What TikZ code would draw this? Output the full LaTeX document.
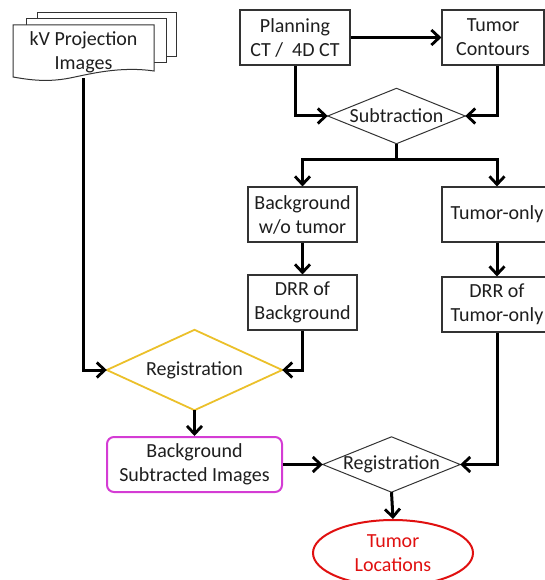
\documentclass[tikz,border=0pt]{standalone}
\usepackage{fontspec}
\setmainfont{Carlito}
\usetikzlibrary{arrows.meta,shapes.geometric}
\definecolor{txt}{HTML}{1E1E1E}
\definecolor{gold}{HTML}{EBC02A}
\definecolor{mag}{HTML}{D43CD4}
\definecolor{myred}{HTML}{E01010}
\begin{document}
\begin{tikzpicture}[x=1pt,y=-1pt,
  every node/.style={font=\fontsize{20}{24}\selectfont, text=txt, align=center, inner sep=0pt},
  box/.style={draw=black!80, line width=1.1pt, fill=white, minimum width=110pt, minimum height=55pt},
  dia/.style={minimum width=137pt, minimum height=55pt},
  conn/.style={line width=3pt, -{Straight Barb[length=8pt,width=15pt,line width=2.8pt]}, line join=miter}
]
\useasboundingbox (0,0) rectangle (545,580);
% document stack
\draw[black!80, line width=1pt, fill=white] (37,13) rectangle (176,57);
\draw[black!80, line width=1pt, fill=white] (26,19) rectangle (166,63);
\draw[black!80, line width=1pt, fill=white] (13,25) -- (154,25) -- (154,71)
  .. controls (120,66) and (90,74) .. (70,78) .. controls (45,83) and (25,79) .. (13,77) -- cycle;
\node[minimum width=141pt, minimum height=52pt] (kv) at (83.5,52) {kV Projection\\Images};

\node[box] (plan) at (295,37.5) {Planning\\CT /\ \ 4D CT};
\node[box, minimum width=102pt] (tumc) at (493,37.5) {Tumor\\Contours};
\node[dia] (sub) at (396.5,116) {Subtraction};
\draw[black!80, line width=1pt] (sub.west) -- (sub.north) -- (sub.east) -- (sub.south) -- cycle;

\node[box, minimum width=109pt] (bg) at (302.5,214.5) {Background\\w/o tumor};
\node[box] (to) at (497,214.5) {Tumor-only};
\node[box, minimum width=109pt] (drrb) at (302.5,302.5) {DRR of\\Background};
\node[box] (drrt) at (497,304.5) {DRR of\\Tumor-only};

\node[minimum width=175pt, minimum height=80pt] (reg1) at (194.5,370) {Registration};
\draw[gold, line width=1.8pt] (reg1.west) -- (reg1.north) -- (reg1.east) -- (reg1.south) -- cycle;

\node[draw=mag, line width=2pt, rounded corners=7pt, minimum width=175pt, minimum height=55pt] (bsi) at (194.5,464.5) {Background\\Subtracted Images};

\node[dia] (reg2) at (391.5,464.5) {Registration};
\draw[black!80, line width=1pt] (reg2.west) -- (reg2.north) -- (reg2.east) -- (reg2.south) -- cycle;

\node[ellipse, draw=myred, line width=2pt, minimum width=160pt, minimum height=66pt, text=myred] (loc) at (393,553) {Tumor\\Locations};

% connectors
\draw[conn] (plan) -- (tumc);
\draw[conn] (plan.south) |- (sub.west);
\draw[conn] ([xshift=4pt]tumc.south) |- (sub.east);
\coordinate (split) at (396.5,160);
\draw[line width=3pt] (sub.south) -- (split);
\draw[conn] (split) -| (bg.north);
\draw[conn] (split) -| (to.north);
\draw[conn] (bg) -- (drrb);
\draw[conn] (to) -- (drrt);
\draw[conn] (kv.south) |- (reg1.west);
\draw[conn] (drrb.south) |- (reg1.east);
\draw[conn] (reg1.south) -- (bsi.north);
\draw[conn] (bsi) -- (reg2.west);
\draw[conn] (drrt.south) |- (reg2.east);
\draw[conn] (reg2.south) -- (loc.north);
\end{tikzpicture}
\end{document}
